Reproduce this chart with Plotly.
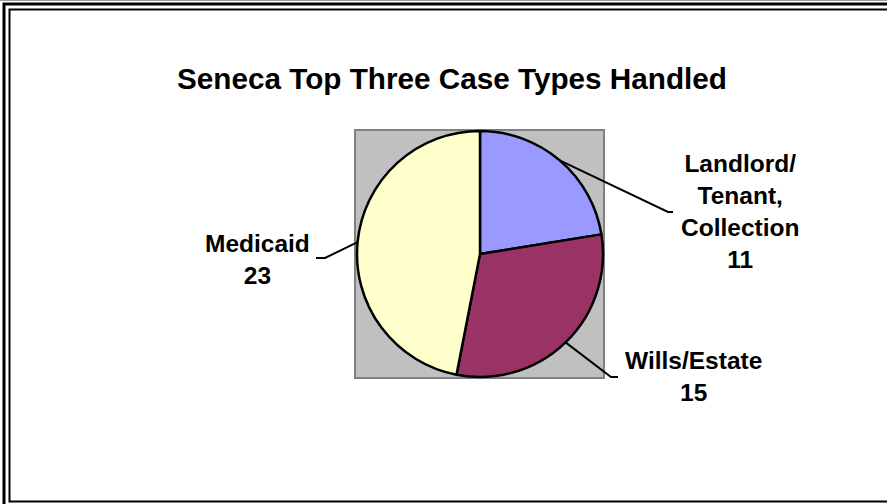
import math
import plotly.graph_objects as go

# ---- data ----
categories = ["Landlord/<br>Tenant,<br>Collection", "Wills/Estate", "Medicaid"]
values = [11, 15, 23]
colors = ["#9999FF", "#993366", "#FFFFCC"]
title_text = "Seneca Top Three Case Types Handled"

W, H = 887, 504
FONT = "Arial, 'Liberation Sans', sans-serif"

def px(x):
    return x / W

def py(y):
    return 1 - y / H

def pt(x, y):
    return f"{px(x)},{py(y)}"

# pie geometry (pixels)
cx, cy, r = 480, 254, 123

fig = go.Figure()
fig.add_trace(go.Pie(
    labels=[c.replace("<br>", " ") for c in categories],
    values=values,
    sort=False,
    direction="clockwise",
    rotation=0,
    textinfo="none",
    hoverinfo="label+value",
    marker=dict(colors=colors, line=dict(color="black", width=2.5)),
    domain=dict(x=[px(cx - r), px(cx + r)], y=[py(cy + r), py(cy - r)]),
    showlegend=False,
))

shapes = []
# frame (right/bottom of the outer frame fall outside the picture)
shapes.append(dict(type="path", xref="paper", yref="paper",
                   path=f"M {pt(0, 0.5)} L {pt(W, 0.5)}",
                   line=dict(color="#9a9a9a", width=1)))
shapes.append(dict(type="path", xref="paper", yref="paper",
                   path=f"M {pt(4, H)} L {pt(4, 4)} L {pt(W, 4)}",
                   line=dict(color="black", width=3)))
shapes.append(dict(type="path", xref="paper", yref="paper",
                   path=f"M {pt(W, 9.5)} L {pt(9.5, 9.5)} L {pt(9.5, 501.5)} L {pt(W, 501.5)}",
                   line=dict(color="black", width=2)))
# gray plot area
shapes.append(dict(type="rect", xref="paper", yref="paper", x0=px(355), y0=py(130), x1=px(604), y1=py(378),
                   fillcolor="#C0C0C0", line=dict(color="#808080", width=2), layer="below"))

# label layout: (elbow point, end point, text centre) in pixels
label_layout = [
    ((668, 212), (673, 212), (740, 211)),
    ((611, 377), (618, 377), (693, 376)),
    ((325, 258), (316, 258), (257, 259)),
]

total = sum(values)
cum = 0
annotations = []
for cat, v, (elbow, end, tc) in zip(categories, values, label_layout):
    mid = (cum + v / 2) / total * 2 * math.pi
    cum += v
    sx = cx + r * math.sin(mid)
    sy = cy - r * math.cos(mid)
    shapes.append(dict(type="path", xref="paper", yref="paper",
                       path=f"M {pt(sx, sy)} L {pt(*elbow)} L {pt(*end)}",
                       line=dict(color="black", width=2)))
    annotations.append(dict(x=px(tc[0]), y=py(tc[1]), xref="paper", yref="paper",
                            text=f"<b>{cat}<br>{v}</b>", showarrow=False,
                            xanchor="center", yanchor="middle", align="center",
                            font=dict(family=FONT, size=24.5, color="black")))

annotations.append(dict(x=px(452), y=py(78), xref="paper", yref="paper",
                        text=f"<b>{title_text}</b>", showarrow=False,
                        xanchor="center", yanchor="middle",
                        font=dict(family=FONT, size=29.7, color="black")))

fig.update_layout(
    width=W, height=H,
    margin=dict(l=0, r=0, t=0, b=0),
    paper_bgcolor="white",
    plot_bgcolor="white",
    shapes=shapes,
    annotations=annotations,
)

fig.write_html(
    "out.html",
    config={"displayModeBar": False},
    post_script="document.documentElement.style.overflow='hidden';document.body.style.overflow='hidden';document.body.style.margin='0';",
)
